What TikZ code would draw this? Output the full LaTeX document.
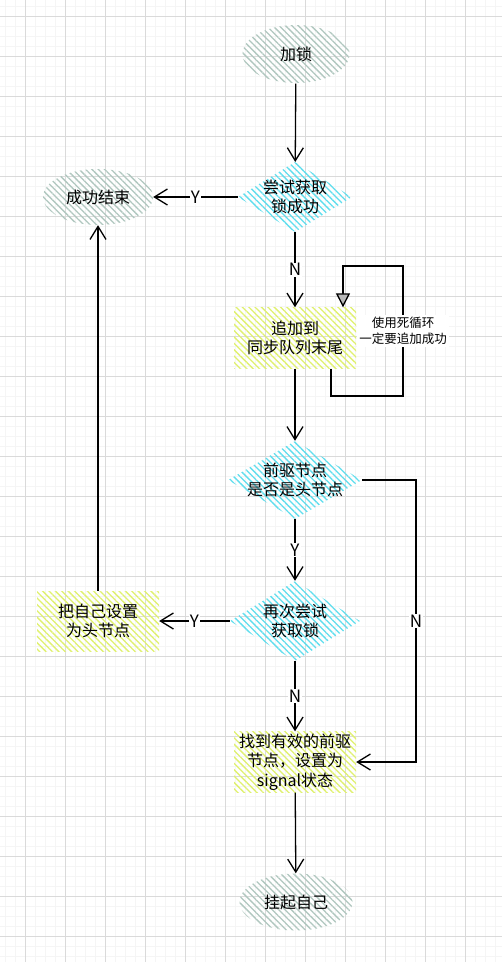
\documentclass[tikz,border=0pt]{standalone}
\usepackage{fontspec}
\setmainfont{Noto Sans CJK SC}
\usepackage{xcolor}
\usepackage{tikz}
\usetikzlibrary{positioning,shapes.geometric,arrows.meta,patterns.meta}

\definecolor{gridmajor}{RGB}{218,218,218}
\definecolor{gridminor}{RGB}{245,245,245}
\definecolor{stonehatch}{RGB}{176,199,191}
\definecolor{cyanhatch}{RGB}{95,222,238}
\definecolor{limehatch}{RGB}{224,241,110}

\begin{document}
\begin{tikzpicture}[x=1pt, y=-1pt,
    every node/.style={font=\fontsize{16}{19.5}\selectfont, align=center},
    hatch/.style={pattern={Lines[angle=-45, distance=4.5pt, line width=1.3pt]}},
    terminal/.style={hatch, pattern color=stonehatch, ellipse, inner sep=0pt},
    decision/.style={hatch, pattern color=cyanhatch, diamond, inner sep=-30pt},
    process/.style={hatch, pattern color=limehatch, rectangle, inner sep=0pt,
        minimum width=122pt, minimum height=61pt},
    flow/.style={line width=1.3pt, -{Straight Barb[length=13pt, width=16pt]}},
    tag/.style={fill=white, inner sep=1pt, font=\fontsize{17}{17}\selectfont},
    note/.style={fill=white, inner sep=2pt, font=\fontsize{12.5}{16}\selectfont}
  ]
    \useasboundingbox (0, 0) rectangle (502, 962);
    \fill [white] (0, 0) rectangle (502, 962);

    % grid
    \foreach \gx in {5,15,...,495}
        \draw [gridminor, line width=1pt] (\gx, 0) -- (\gx, 962);
    \foreach \gy in {6,16,...,956}
        \draw [gridminor, line width=1pt] (0, \gy) -- (502, \gy);
    \foreach \gx in {25,65,...,465}
        \draw [gridmajor, line width=1pt] (\gx, 0) -- (\gx, 962);
    \foreach \gy in {16,56,...,936}
        \draw [gridmajor, line width=1pt] (0, \gy) -- (502, \gy);

    \coordinate (LockP) at (296, 54);
    \coordinate (TryP) at (295, 197);
    \coordinate (DoneP) at (98, 197);
    \coordinate (EnqP) at (295, 338);
    \coordinate (PredP) at (295, 480);
    \coordinate (RetryP) at (295, 621);
    \coordinate (SetHeadP) at (98, 621);
    \coordinate (MarkP) at (295, 762);
    \coordinate (ParkP) at (296, 902);

    \coordinate (LoopLow) at (403, 396);
    \coordinate (LoopHigh) at (403, 266);
    \coordinate (RailN) at (416, 480);

    \node [terminal, minimum width=107pt, minimum height=58pt] (Lock) at (LockP) {加锁};
    \node [decision, minimum width=114pt, minimum height=70pt] (Try) at (TryP) {尝试获取\\锁成功};
    \node [terminal, minimum width=110pt, minimum height=56pt] (Done) at (DoneP) {成功结束};
    \node [process] (Enq) at (EnqP) {追加到\\同步队列末尾};
    \node [decision, minimum width=134pt, minimum height=78pt] (Pred) at (PredP) {前驱节点\\是否是头节点};
    \node [decision, minimum width=130pt, minimum height=80pt] (Retry) at (RetryP) {再次尝试\\获取锁};
    \node [process, minimum height=60pt] (SetHead) at (SetHeadP) {把自己设置\\为头节点};
    \node [process] (Mark) at (MarkP) {找到有效的前驱\\节点，设置为\\signal状态};
    \node [terminal, minimum width=113pt, minimum height=57pt] (Park) at (ParkP) {挂起自己};

    \draw [flow] (Lock) to (Try);
    \draw [flow] (Try.west) to node [tag] {Y} (Done.east);
    \draw [flow] (Try) to node [tag] {N} (Enq);
    \draw [line width=1.3pt, -{Triangle[length=14pt, width=14pt, fill=gray!55]}]
        ([xshift=36pt]Enq.south) |- (LoopLow) to node [note] {使用死循环\\一定要追加成功} (LoopHigh)
        -| ([xshift=48pt]Enq.north);
    \draw [flow] (Enq) to (Pred);
    \draw [flow] (Pred) to node [tag] {Y} (Retry);
    \draw [flow] (Pred.east) -- (Pred.east -| RailN) |- node [tag, pos=0.25] {N} (Mark.east);
    \draw [flow] (Retry.west) to node [tag] {Y} (SetHead.east);
    \draw [flow] (SetHead) to (Done);
    \draw [flow] (Retry) to node [tag] {N} (Mark);
    \draw [flow] (Mark) to (Park);
  \end{tikzpicture}
\end{document}
